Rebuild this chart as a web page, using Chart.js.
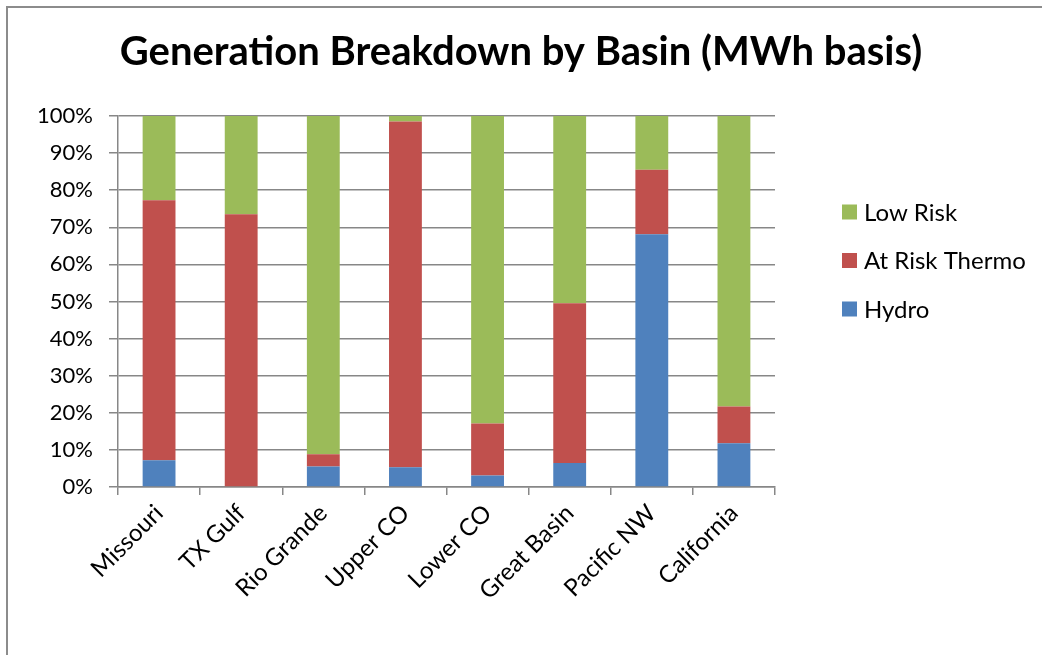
<!DOCTYPE html>
<html>
<head>
<meta charset="utf-8">
<title>Generation Breakdown by Basin</title>
<script src="https://cdn.jsdelivr.net/npm/chart.js@4.4.1/dist/chart.umd.min.js"></script>
<style>
    html, body { margin: 0; padding: 0; background: #fff; }
    #wrap { width: 1042px; height: 655px; position: relative; }
</style>
</head>
<body>
<div id="wrap"><canvas id="basinChart"></canvas></div>
<script>
// Dados (% da geração em MWh por bacia)
const basins = ['Missouri', 'TX Gulf', 'Rio Grande', 'Upper CO', 'Lower CO', 'Great Basin', 'Pacific NW', 'California'];
const hydro = [7.2, 0.2, 5.5, 5.3, 3.1, 6.5, 68.1, 11.8];
const atRiskThermo = [70.1, 73.3, 3.3, 93.2, 14.0, 43.0, 17.4, 9.9];
const lowRisk = [22.7, 26.5, 91.2, 1.5, 82.9, 50.5, 14.5, 78.3];
const yTicks = [0, 10, 20, 30, 40, 50, 60, 70, 80, 90, 100];

const FONT = 'Lato, "Open Sans", sans-serif';
const GRID = '#878787';

// Moldura cinza (esquerda e topo), como no gráfico original
const framePlugin = {
    id: 'frame',
    beforeDraw: (chart) => {
        const ctx = chart.ctx;
        ctx.save();
        ctx.strokeStyle = '#8c8c8c';
        ctx.lineWidth = 2;
        ctx.beginPath();
        ctx.moveTo(7, chart.height);
        ctx.lineTo(7, 7);
        ctx.lineTo(chart.width, 7);
        ctx.stroke();
        ctx.restore();
    }
};

// Legenda à direita, ordem invertida (Low Risk no topo)
const sideLegend = {
    id: 'sideLegend',
    afterDraw: (chart) => {
        const ctx = chart.ctx;
        const sets = chart.data.datasets.slice().reverse();
        ctx.save();
        ctx.font = '24px ' + FONT;
        ctx.textBaseline = 'middle';
        ctx.textAlign = 'left';
        sets.forEach((ds, i) => {
            const cy = 212 + i * 48.5;
            ctx.fillStyle = ds.backgroundColor;
            ctx.fillRect(842, cy - 7.5, 15, 15);
            ctx.fillStyle = '#000';
            ctx.fillText(ds.label, 864, cy + 1);
        });
        ctx.restore();
    }
};

new Chart(document.getElementById('basinChart'), {
    type: 'bar',
    data: {
        labels: basins,
        datasets: [
            { label: 'Hydro', data: hydro, backgroundColor: '#4F81BD' },
            { label: 'At Risk Thermo', data: atRiskThermo, backgroundColor: '#C0504D' },
            { label: 'Low Risk', data: lowRisk, backgroundColor: '#9BBB59' }
        ]
    },
    options: {
        responsive: true,
        maintainAspectRatio: false,
        animation: false,
        layout: { padding: 0 },
        datasets: { bar: { barPercentage: 0.4, categoryPercentage: 1.0, borderWidth: 0 } },
        plugins: {
            legend: { display: false },
            tooltip: { enabled: false },
            title: {
                display: true,
                text: 'Generation Breakdown by Basin (MWh basis)',
                color: '#000',
                font: { family: FONT, size: 40, weight: 'bold', lineHeight: 1.2 },
                padding: { top: 28, bottom: 40 }
            }
        },
        scales: {
            x: {
                stacked: true,
                grid: { drawOnChartArea: false, drawTicks: true, tickLength: 8, color: GRID, lineWidth: 1.5 },
                border: { display: true, color: GRID, width: 1.5 },
                ticks: {
                    color: '#000',
                    font: { family: FONT, size: 24 },
                    minRotation: 45,
                    maxRotation: 45,
                    padding: 4
                },
                afterFit: (scale) => { scale.height = 168; }
            },
            y: {
                stacked: true,
                min: 0,
                max: 100,
                afterBuildTicks: (scale) => { scale.ticks = yTicks.map(v => ({ value: v })); },
                grid: { color: GRID, lineWidth: 1.5, tickLength: 9 },
                border: { display: true, color: GRID, width: 1.5 },
                ticks: {
                    color: '#000',
                    font: { family: FONT, size: 22 },
                    padding: 16,
                    callback: (v) => v + '%'
                },
                afterFit: (scale) => { scale.width = 118; }
            },
            // eixo vazio à direita: reserva o espaço da legenda
            legendSpace: {
                position: 'right',
                display: true,
                grid: { display: false },
                border: { display: false },
                ticks: { display: false },
                afterFit: (scale) => { scale.width = 267; }
            }
        }
    },
    plugins: [framePlugin, sideLegend]
});
</script>
</body>
</html>
